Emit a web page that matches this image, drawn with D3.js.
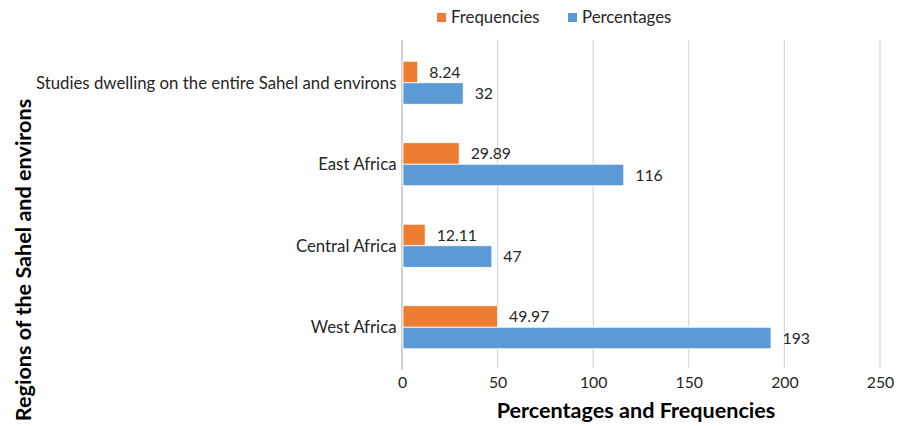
<!DOCTYPE html>
<html>
<head>
<meta charset="utf-8">
<script src="https://cdn.jsdelivr.net/npm/d3@7"></script>
<style>
  html, body { margin: 0; padding: 0; background: #fff; }
  svg { display: block; font-family: Lato, "Open Sans", sans-serif; }
</style>
</head>
<body>
<svg id="chart" width="915" height="426"></svg>
<script>
// Regions, listed top to bottom
const regions = ["Studies dwelling on the entire Sahel and environs", "East Africa", "Central Africa", "West Africa"];
const frequencies = [8.24, 29.89, 12.11, 49.97];
const percentages = [32, 116, 47, 193];
const seriesNames = ["Frequencies", "Percentages"];
const seriesColors = ["#ED7D31", "#5B9BD5"];
const xTicks = [0, 50, 100, 150, 200, 250];

const svg = d3.select("#chart");
const plotLeft = 402, plotRight = 880, plotTop = 42, plotBottom = 368;

const x = d3.scaleLinear().domain([0, 250]).range([plotLeft, plotRight]);
const y = d3.scaleBand().domain(regions).range([plotTop, plotBottom]).padding(0);
const inner = d3.scaleBand().domain(seriesNames)
  .range([y.bandwidth() * 0.236, y.bandwidth() * 0.764]).padding(0);

// Vertical gridlines
svg.append("g").selectAll("line").data(xTicks.slice(1)).join("line")
  .attr("x1", d => x(d)).attr("x2", d => x(d))
  .attr("y1", plotTop - 2).attr("y2", plotBottom)
  .attr("stroke", "#d9d9d9").attr("stroke-width", 1.3);

// Category axis line
svg.append("line")
  .attr("x1", x(0)).attr("x2", x(0))
  .attr("y1", plotTop - 2).attr("y2", plotBottom + 2)
  .attr("stroke", "#d0d0d0").attr("stroke-width", 2);

// Bars
const rows = regions.map((r, i) => ({ region: r, values: [frequencies[i], percentages[i]] }));
const groups = svg.append("g").selectAll("g").data(rows).join("g")
  .attr("transform", d => `translate(0,${y(d.region)})`);

groups.selectAll("rect").data(d => d.values.map((v, j) => ({ v, s: seriesNames[j], c: seriesColors[j] })))
  .join("rect")
  .attr("x", x(0) + 1)
  .attr("y", d => inner(d.s))
  .attr("width", d => x(d.v) - x(0) - 1)
  .attr("height", inner.bandwidth())
  .attr("fill", d => d.c)
  .attr("stroke", "#ffffff").attr("stroke-width", 0.8);

// Value labels
groups.selectAll("text").data(d => d.values.map((v, j) => ({ v, s: seriesNames[j] })))
  .join("text")
  .attr("x", d => x(d.v) + 11.5)
  .attr("y", d => inner(d.s) + inner.bandwidth() / 2)
  .attr("dy", "0.35em")
  .attr("font-size", 15.8)
  .attr("fill", "#262626")
  .text(d => d.v);

// Category labels
svg.append("g").selectAll("text").data(regions).join("text")
  .attr("x", 396.5)
  .attr("y", d => y(d) + y.bandwidth() / 2)
  .attr("dy", "0.35em")
  .attr("text-anchor", "end")
  .attr("font-size", 16.8)
  .attr("fill", "#262626")
  .text(d => d);

// X tick labels
const xAxis = d3.axisBottom(x).tickValues(xTicks).tickSize(0).tickPadding(6);
const xg = svg.append("g").attr("transform", `translate(0,${plotBottom + 3})`).call(xAxis);
xg.select(".domain").remove();
xg.selectAll("text").attr("font-size", 15.8).attr("fill", "#262626")
  .attr("font-family", "Lato, 'Open Sans', sans-serif");

// Axis titles
svg.append("text")
  .attr("x", 636).attr("y", 410).attr("dy", "0.35em")
  .attr("text-anchor", "middle")
  .attr("font-size", 21.6).attr("font-weight", "bold").attr("fill", "#000")
  .text("Percentages and Frequencies");

svg.append("text")
  .attr("transform", "translate(23,260) rotate(-90)")
  .attr("dy", "0.35em")
  .attr("text-anchor", "middle")
  .attr("font-size", 21.6).attr("font-weight", "bold").attr("fill", "#000")
  .text("Regions of the Sahel and environs");

// Legend
const legendItems = [
  { name: seriesNames[0], color: seriesColors[0], x: 437 },
  { name: seriesNames[1], color: seriesColors[1], x: 568 }
];
const lg = svg.append("g").selectAll("g").data(legendItems).join("g")
  .attr("transform", d => `translate(${d.x},13)`);
lg.append("rect").attr("width", 9).attr("height", 9).attr("fill", d => d.color);
lg.append("text").attr("x", 14).attr("y", 4.5).attr("dy", "0.35em")
  .attr("font-size", 16.8).attr("fill", "#262626")
  .text(d => d.name);
</script>
</body>
</html>
